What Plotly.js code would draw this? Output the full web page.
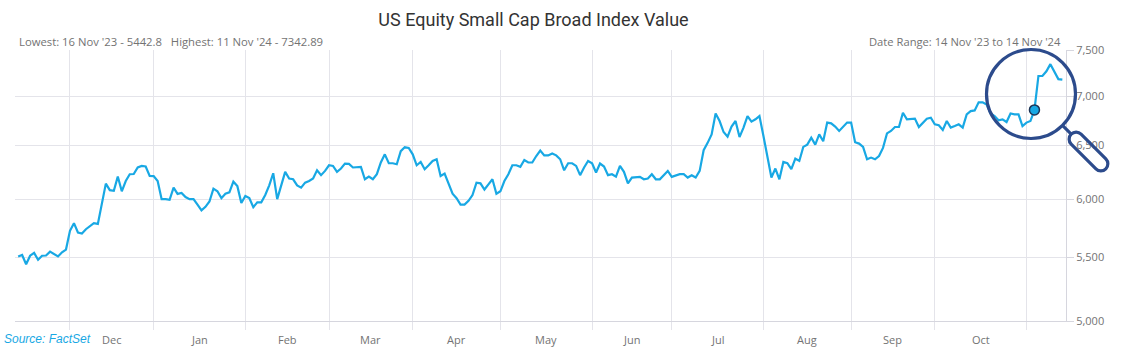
<!DOCTYPE html>
<html>
<head>
<meta charset="utf-8">
<script src="https://cdn.plot.ly/plotly-3.0.1.min.js"></script>
<style>
  html, body { margin: 0; padding: 0; background: #ffffff; }
  #chart { width: 1127px; height: 351px; }
</style>
</head>
<body>
<div id="chart"></div>
<script>
// ---- Data ----
const chartTitle = 'US Equity Small Cap Broad Index Value';
const statsText = "Lowest: 16 Nov '23 - 5442.8\u00A0\u00A0\u00A0Highest: 11 Nov '24 - 7342.89";
const rangeText = "Date Range: 14 Nov '23 to 14 Nov '24";
const sourceText = 'Source: FactSet';
const startDate = '2023-11-14';
const endDate = '2024-11-14';
const markerDate = '2024-11-05';
const monthLabels = ['Dec','Jan','Feb','Mar','Apr','May','Jun','Jul','Aug','Sep','Oct'];
const yTickVals = [5000, 5500, 6000, 6500, 7000, 7500];
const yTickText = ['5,000', '5,500', '6,000', '6,500', '7,000', '7,500'];
// one value per weekday from startDate to endDate
const values = [
  5507, 5519, 5442.8, 5513, 5536, 5480, 5513, 5515, 5547, 5530,
  5507, 5541, 5564, 5722, 5788, 5708, 5699, 5736, 5765, 5788,
  5782, 5960, 6141, 6081, 6075, 6206, 6071, 6165, 6228, 6230,
  6291, 6306, 6300, 6212, 6210, 6165, 6000, 6000, 5994, 6104,
  6047, 6056, 6019, 6000, 6000, 5951, 5900, 5931, 5979, 6095,
  6071, 6009, 6049, 6062, 6159, 6118, 5966, 6029, 6010, 5928,
  5971, 5971, 6037, 6125, 6237, 6000, 6134, 6250, 6188, 6181,
  6125, 6104, 6150, 6165, 6188, 6265, 6219, 6259, 6312, 6306,
  6250, 6281, 6328, 6325, 6291, 6291, 6297, 6181, 6206, 6181,
  6228, 6338, 6416, 6331, 6331, 6322, 6447, 6484, 6478, 6416,
  6312, 6343, 6275, 6312, 6353, 6369, 6212, 6234, 6134, 6049,
  6009, 5951, 5951, 5985, 6037, 6150, 6144, 6087, 6134, 6181,
  6049, 6071, 6165, 6228, 6312, 6312, 6297, 6362, 6338, 6338,
  6400, 6453, 6406, 6406, 6425, 6406, 6369, 6265, 6331, 6331,
  6306, 6219, 6291, 6353, 6331, 6244, 6328, 6300, 6219, 6228,
  6206, 6306, 6250, 6144, 6197, 6203, 6203, 6181, 6188, 6228,
  6181, 6181, 6219, 6259, 6203, 6219, 6228, 6228, 6197, 6219,
  6197, 6259, 6456, 6527, 6610, 6821, 6744, 6634, 6588, 6688,
  6744, 6584, 6678, 6794, 6738, 6761, 6794, 6594, 6375, 6197,
  6281, 6181, 6343, 6331, 6275, 6375, 6353, 6488, 6510, 6577,
  6510, 6610, 6543, 6728, 6721, 6688, 6644, 6688, 6728, 6728,
  6533, 6520, 6488, 6369, 6385, 6369, 6400, 6478, 6620, 6644,
  6684, 6684, 6828, 6761, 6761, 6768, 6684, 6728, 6768, 6778,
  6711, 6701, 6654, 6744, 6678, 6694, 6711, 6678, 6812, 6845,
  6852, 6935, 6935, 6912, 6821, 6794, 6751, 6761, 6734, 6821,
  6812, 6812, 6694, 6728, 6744, 6857, 7214, 7214, 7265, 7342.89,
  7255, 7180, 7175
];

// ---- weekday dates (the category axis) ----
function iso(d) { return d.toISOString().slice(0, 10); }
const dates = [];
for (let t = Date.parse(startDate + 'T00:00:00Z'); t <= Date.parse(endDate + 'T00:00:00Z'); t += 86400000) {
  const d = new Date(t);
  const wd = d.getUTCDay();
  if (wd !== 0 && wd !== 6) dates.push(iso(d));
}

// month groups
const groups = [];
dates.forEach((d, i) => {
  const key = d.slice(0, 7);
  if (!groups.length || groups[groups.length - 1].key !== key) groups.push({ key, first: i, n: 0 });
  groups[groups.length - 1].n++;
});
const monthStarts = groups.slice(1).map(g => dates[g.first]);
const fullMonths = groups.slice(1, groups.length - 1);
const monthMids = fullMonths.map(g => {
  const half = g.n / 2;
  const k = Math.floor(half);
  const hours = Math.round((half - k) * 24);
  return dates[g.first + k] + ' ' + String(hours).padStart(2, '0') + ':00';
});

// ---- layout helpers (pixel -> paper) ----
const W = 1127, H = 351, ML = 15, MR = 61, MT = 50, MB = 30;
const PW = W - ML - MR, PH = H - MT - MB;
const X = px => (px - ML) / PW;
const Y = py => (H - MB - py) / PH;

const gridColor = '#e4e4ea';
const axisColor = '#d6d6de';
const textGray = '#737373';
const lineBlue = '#18a8e4';
const navy = '#2c4b8c';
const uiFont = 'Open Sans, Roboto, sans-serif';

// magnifier
const cx = 1031, cy = 94, cr = 44.5;
const capC = [1088.5, 151.5], capH = 17.5, capR = 7;
const u = [Math.SQRT1_2, Math.SQRT1_2], nv = [-Math.SQRT1_2, Math.SQRT1_2];
const add = (p, v, s) => [p[0] + v[0] * s, p[1] + v[1] * s];
const P = p => X(p[0]).toFixed(5) + ',' + Y(p[1]).toFixed(5);
const P1 = add(capC, u, -capH), P2 = add(capC, u, capH);
const k = 0.5523 * capR;
const a = add(P2, nv, capR), b = add(P2, u, capR), c = add(P2, nv, -capR);
const d = add(P1, nv, -capR), e = add(P1, u, -capR), f = add(P1, nv, capR);
const capsulePath =
  'M' + P(f) + ' L' + P(a) +
  ' C' + P(add(a, u, k)) + ' ' + P(add(b, nv, k)) + ' ' + P(b) +
  ' C' + P(add(b, nv, -k)) + ' ' + P(add(c, u, k)) + ' ' + P(c) +
  ' L' + P(d) +
  ' C' + P(add(d, u, -k)) + ' ' + P(add(e, nv, -k)) + ' ' + P(e) +
  ' C' + P(add(e, nv, k)) + ' ' + P(add(f, u, -k)) + ' ' + P(f) + ' Z';
const conn0 = [cx + cr * Math.SQRT1_2, cy + cr * Math.SQRT1_2];
const conn1 = add(P1, u, -capR);

const markerIdx = dates.indexOf(markerDate);

const traces = [
  {
    type: 'scatter', mode: 'lines', x: dates, y: values,
    line: { color: lineBlue, width: 2.2 }, hoverinfo: 'skip'
  },
  {
    type: 'scatter', mode: 'markers', x: [dates[markerIdx]], y: [values[markerIdx]],
    marker: { size: 10, color: lineBlue, line: { color: '#1e3556', width: 1.5 } }, hoverinfo: 'skip'
  }
];

const annotations = [
  { xref: 'paper', yref: 'paper', x: X(17), y: Y(41), xanchor: 'left', yanchor: 'middle', showarrow: false,
    text: statsText, font: { family: uiFont, size: 11.3, color: textGray } },
  { xref: 'paper', yref: 'paper', x: X(1063), y: Y(41), xanchor: 'right', yanchor: 'middle', showarrow: false,
    text: rangeText, font: { family: uiFont, size: 11.2, color: textGray } },
  { xref: 'paper', yref: 'paper', x: X(2), y: Y(339), xanchor: 'left', yanchor: 'middle', showarrow: false,
    text: '<i>' + sourceText + '</i>', font: { family: 'Liberation Sans, Arial, sans-serif', size: 12, color: lineBlue } }
].concat(monthMids.map((m, i) => ({
  xref: 'x', yref: 'paper', x: m, y: Y(339), xanchor: 'center', yanchor: 'middle', showarrow: false,
  text: monthLabels[i], font: { family: uiFont, size: 11, color: textGray }
})));

const shapes = [
  { type: 'circle', xref: 'paper', yref: 'paper',
    x0: X(cx - cr), x1: X(cx + cr), y0: Y(cy + cr), y1: Y(cy - cr),
    line: { color: navy, width: 3.2 }, fillcolor: 'rgba(0,0,0,0)' },
  { type: 'line', xref: 'paper', yref: 'paper',
    x0: X(conn0[0]), y0: Y(conn0[1]), x1: X(conn1[0]), y1: Y(conn1[1]),
    line: { color: navy, width: 3.2 } },
  { type: 'path', xref: 'paper', yref: 'paper', path: capsulePath,
    line: { color: navy, width: 3.2 }, fillcolor: 'rgba(0,0,0,0)' }
];

const layout = {
  width: W, height: H,
  margin: { l: ML, r: MR, t: MT, b: MB, pad: 0 },
  paper_bgcolor: '#ffffff', plot_bgcolor: '#ffffff',
  showlegend: false, hovermode: false,
  title: {
    text: chartTitle, xref: 'paper', x: X(533.5), xanchor: 'center',
    yref: 'container', y: 1 - 20 / H, yanchor: 'middle',
    font: { family: 'Roboto, sans-serif', size: 18, color: '#333333' }
  },
  xaxis: {
    type: 'date',
    range: ['2023-11-13 05:00', '2024-11-14 22:00'],
    rangebreaks: [{ bounds: ['sat', 'mon'] }],
    tickmode: 'array', tickvals: monthStarts, ticktext: monthStarts.map(() => ''),
    showgrid: true, gridcolor: gridColor, gridwidth: 1,
    ticks: 'outside', ticklen: 8, tickcolor: gridColor, tickwidth: 1,
    showline: true, linecolor: axisColor, linewidth: 1,
    zeroline: false, fixedrange: true
  },
  yaxis: {
    type: 'log', side: 'right',
    range: [Math.log10(5000), Math.log10(7500)],
    tickmode: 'array', tickvals: yTickVals, ticktext: yTickText,
    showgrid: true, gridcolor: gridColor, gridwidth: 1,
    ticks: 'outside', ticklen: 7, tickcolor: axisColor, tickwidth: 1,
    showline: true, linecolor: axisColor, linewidth: 1,
    tickfont: { family: uiFont, size: 11, color: textGray },
    zeroline: false, fixedrange: true
  },
  annotations: annotations,
  shapes: shapes
};

Plotly.newPlot('chart', traces, layout, { displayModeBar: false, staticPlot: true });
</script>
</body>
</html>
